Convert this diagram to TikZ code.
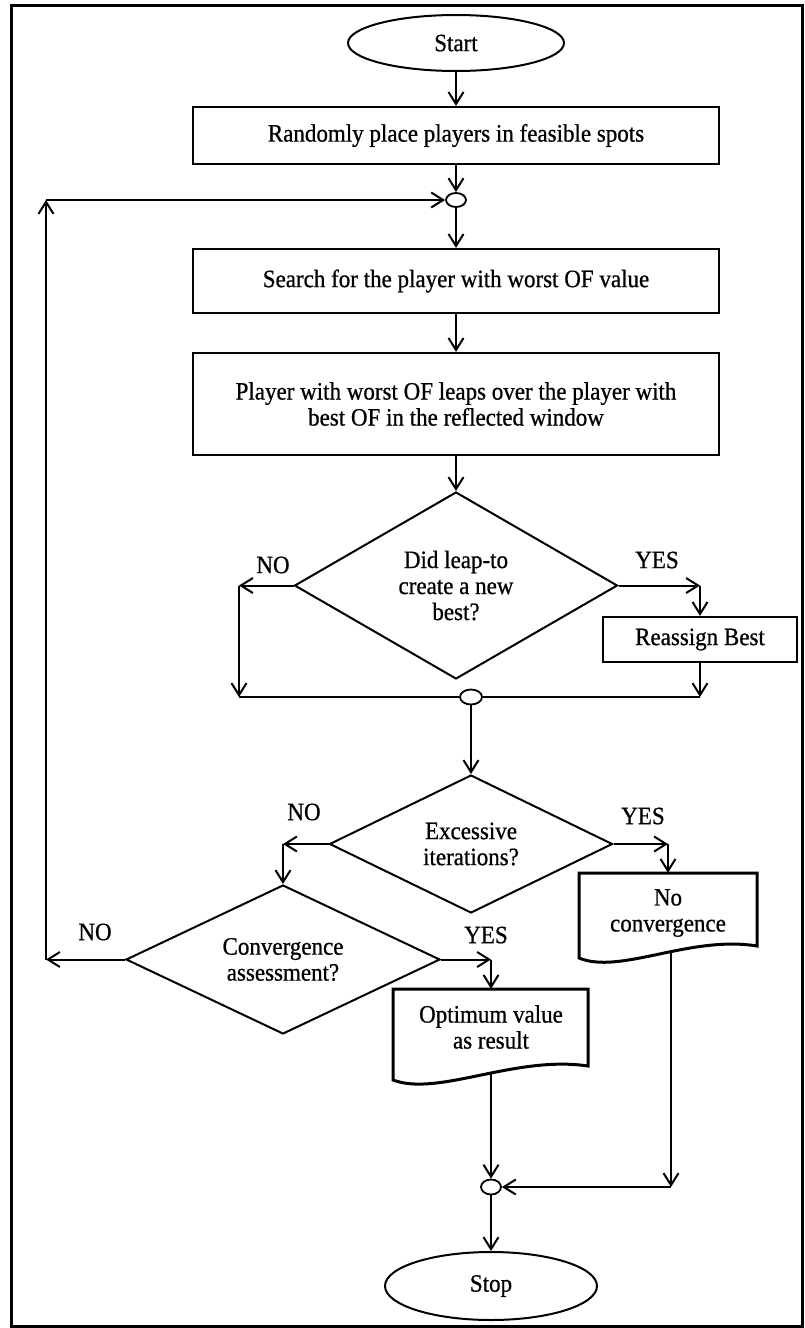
\documentclass[tikz,border=0pt]{standalone}
\usepackage{fontspec}
\setmainfont{Liberation Serif}[FakeStretch=0.92,FakeBold=0.7]
\usetikzlibrary{arrows.meta,shapes.geometric}

\begin{document}
\begin{tikzpicture}[x=1pt,y=-1pt,
  every node/.style={font=\fontsize{25}{26}\selectfont},
  proc/.style={draw,line width=2.2pt,rectangle,inner sep=0pt,align=center},
  terminal/.style={draw,ellipse,line width=2pt,inner sep=0pt},
  decision/.style={draw,diamond,line width=2pt,inner sep=0pt,aspect=2,align=center},
  junction/.style={draw,ellipse,line width=1.8pt,inner sep=0pt,minimum width=20pt,minimum height=14pt},
  docbox/.style={inner sep=0pt,align=center},
  docline/.style={line width=3pt,line join=miter},
  flow/.style={line width=2pt,-{Straight Barb[length=12pt,width=15pt]}},
  plain/.style={line width=2pt},
  tag/.style={inner sep=0pt}
]
\useasboundingbox (0,0) rectangle (804,1328);
\fill[white] (0,0) rectangle (804,1328);
\draw[line width=3pt] (11.5,5.5) rectangle (802.5,1326.5);

% main column
\node[terminal,minimum width=216pt,minimum height=56pt] (start) at (456,43) {Start};
\node[proc,minimum width=526pt,minimum height=57pt] (init) at (456,135.5) {Randomly place players in feasible spots};
\node[junction] (j1) at (456,200) {};
\node[proc,minimum width=526pt,minimum height=64pt] (search) at (456,281) {Search for the player with worst OF value};
\node[proc,minimum width=526pt,minimum height=102pt] (leap) at (456,404) {Player with worst OF leaps over the player with\\best OF in the reflected window};
\node[decision,minimum width=323pt,minimum height=187pt] (newbest) at (456,585.5) {Did leap-to\\create a new\\best?};
\node[proc,minimum width=194pt,minimum height=45pt] (reassign) at (700,639.5) {Reassign Best};
\node[junction,minimum width=22pt,minimum height=15pt] (j2) at (471,697) {};
\node[decision,minimum width=283pt,minimum height=138pt] (excess) at (471,844) {Excessive\\iterations?};
\node[docbox,minimum width=178pt,minimum height=80pt] (noconv) at (668,913) {No\\convergence};
\node[decision,minimum width=314pt,minimum height=149pt] (conv) at (283,959.5) {Convergence\\assessment?};
\node[docbox,minimum width=195pt,minimum height=76pt] (opt) at (491,1027) {Optimum value\\as result};
\node[junction,minimum width=20pt,minimum height=15pt] (j3) at (491,1187) {};
\node[terminal,minimum width=212pt,minimum height=68pt] (stop) at (491,1286) {Stop};

% document outlines with wavy lower edge
\draw[docline] (579,873) -- (757,873) -- (757,946)
  .. controls (690,935) and (620,975) .. (579,958) -- cycle;
\draw[docline] (393,989) -- (588,989) -- (588,1066)
  .. controls (515,1055) and (438,1097) .. (393,1080) -- cycle;

% branch corners
\coordinate (n1) at (239,585.5);
\coordinate (n1b) at (239,697);
\coordinate (y1) at (700,585.5);
\coordinate (y1b) at (700,697);
\coordinate (n2) at (283,844);
\coordinate (y2) at (668,844);
\coordinate (n3) at (46,959.5);
\coordinate (loop) at (46,200);
\coordinate (y3) at (491,959.5);
\coordinate (optout) at (491,1073);
\coordinate (ncout) at (671,952);
\coordinate (ncb) at (671,1187);

% straight flow
\draw[flow] (start.south) -- (init.north);
\draw[flow] (init.south) -- (j1.north);
\draw[flow] (j1.south) -- (search.north);
\draw[flow] (search.south) -- (leap.north);
\draw[flow] (leap.south) -- (newbest.north);

% first decision
\draw[flow] (newbest.west) -- (n1);
\draw[flow] (n1) -- (n1b);
\draw[plain] (n1b) -- (j2.west);
\draw[flow] (newbest.east) -- (y1);
\draw[flow] (y1) -- (reassign.north);
\draw[flow] (reassign.south) -- (y1b);
\draw[plain] (y1b) -- (j2.east);
\draw[flow] (j2.south) -- (excess.north);

% second decision
\draw[flow] (excess.west) -- (n2);
\draw[flow] (n2) -- (conv.north);
\draw[flow] (excess.east) -- (y2);
\draw[flow] (y2) -- (noconv.north);

% third decision and loop back
\draw[flow] (conv.west) -- (n3);
\draw[flow] (n3) -- (loop);
\draw[flow] (loop) -- (j1.west);
\draw[flow] (conv.east) -- (y3);
\draw[flow] (y3) -- (opt.north);

% to the end
\draw[flow] (optout) -- (j3.north);
\draw[flow] (ncout) -- (ncb);
\draw[flow] (ncb) -- (j3.east);
\draw[flow] (j3.south) -- (stop.north);

% branch labels
\node[tag] (no1) at (273,565) {NO};
\node[tag] (yes1) at (657,560) {YES};
\node[tag] (no2) at (304,812) {NO};
\node[tag] (yes2) at (643,816) {YES};
\node[tag] (no3) at (95,932) {NO};
\node[tag] (yes3) at (486,935) {YES};
\end{tikzpicture}
\end{document}
